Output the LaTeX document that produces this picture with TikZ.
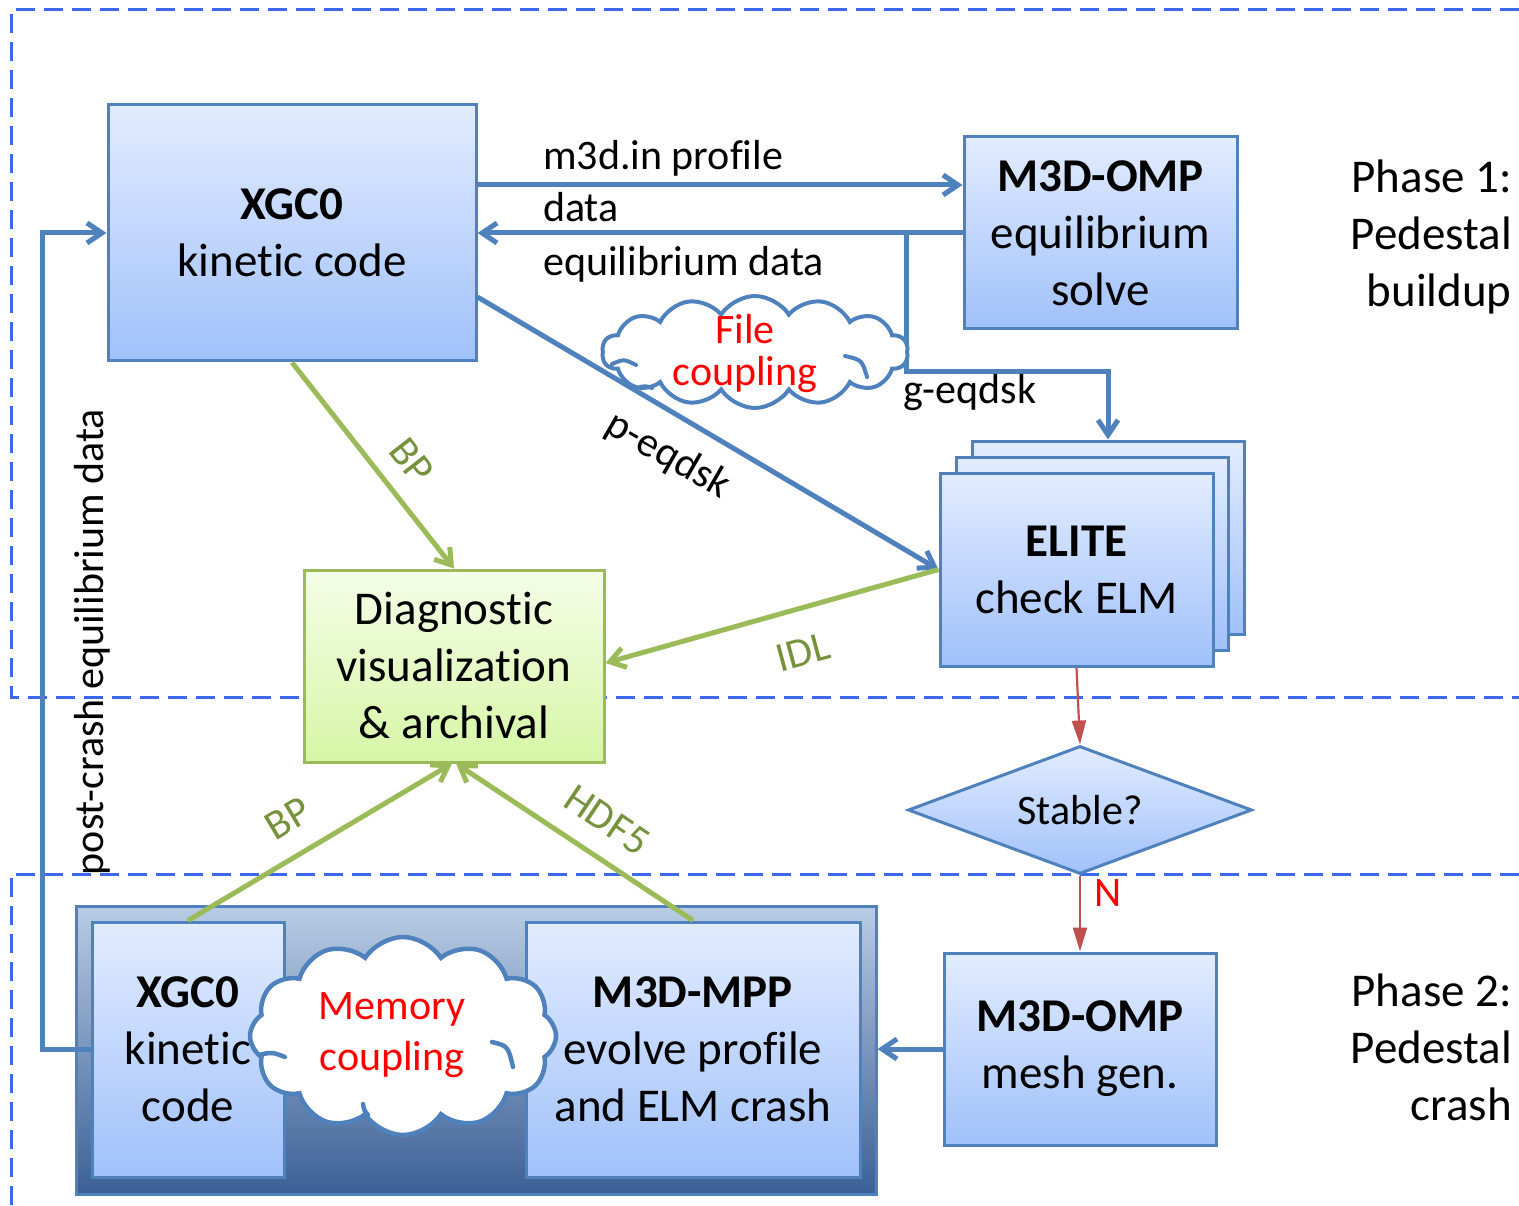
\documentclass[tikz,border=0pt]{standalone}
\usepackage{fontspec}
\setmainfont{Carlito}[Ligatures=NoCommon, RawFeature={-liga;-clig;-dlig;-calt}]
\usetikzlibrary{arrows.meta,shapes.geometric,shapes.symbols,calc}

\definecolor{edgeblue}{RGB}{79,129,189}
\definecolor{boxtop}{RGB}{226,236,255}
\definecolor{boxbot}{RGB}{160,193,250}
\definecolor{diagtop}{RGB}{245,253,232}
\definecolor{diagbot}{RGB}{214,246,166}
\definecolor{diagedge}{RGB}{155,187,89}
\definecolor{labelgreen}{RGB}{118,146,60}
\definecolor{dashblue}{RGB}{60,105,235}
\definecolor{flowred}{RGB}{192,80,77}
\definecolor{packtop}{RGB}{184,204,228}
\definecolor{packmid}{RGB}{140,168,206}
\definecolor{packbot}{RGB}{60,96,150}

\tikzset{
  mainfont/.style={font=\fontsize{47}{57}\selectfont},
  smallfont/.style={font=\fontsize{42}{52}\selectfont},
  box/.style={draw=edgeblue, line width=3pt, top color=boxtop, bottom color=boxbot,
    inner sep=0pt, align=center, mainfont},
  diagbox/.style={draw=diagedge, line width=3pt, top color=diagtop, bottom color=diagbot,
    inner sep=0pt, align=center, mainfont},
  packbox/.style={draw=edgeblue, line width=3pt, top color=packtop, middle color=packmid,
    bottom color=packbot, inner sep=0pt},
  phaseline/.style={draw=dashblue, line width=3pt, dash pattern=on 19pt off 9pt},
  bluearrow/.style={draw=edgeblue, line width=5pt, line join=miter,
    -{Straight Barb[length=15pt,width=20pt]}},
  greenarrow/.style={draw=diagedge, line width=5pt,
    -{Straight Barb[length=15pt,width=20pt]}},
  redarrow/.style={draw=flowred, line width=2.2pt, -{Triangle[length=24pt,width=14pt]}},
  lbl/.style={smallfont, inner sep=0pt},
  greenlbl/.style={smallfont, inner sep=0pt, text=labelgreen},
  puff/.style={cloud, cloud ignores aspect, draw=edgeblue, fill=white, line width=4pt},
  puffcurl/.style={draw=edgeblue, line width=4pt, line cap=round},
  cloudtext/.style={text=red, align=center, inner sep=0pt},
  phasetext/.style={mainfont, align=right, inner sep=0pt},
}

\begin{document}
\begin{tikzpicture}[x=1pt,y=-1pt]
\useasboundingbox (0,0) rectangle (1519,1206);

% phase regions
\draw[phaseline] (1519,10) -- (11,10) -- (11,697) -- (1519,697);
\draw[phaseline] (1519,874) -- (11,874) -- (11,1206);

% phase 1 codes
\node[box, minimum width=368pt, minimum height=256pt] (xgc) at (292,233)
  {\textbf{XGC0}\\kinetic code};
\node[box, minimum width=273pt, minimum height=192pt] (omp) at (1100.5,233)
  {\textbf{M3D-OMP}\\equilibrium\\solve};
\node[box, minimum width=272pt, minimum height=193pt] (e3) at (1108,537.5) {};
\node[box, minimum width=272pt, minimum height=193pt] (e2) at (1092,553.5) {};
\node[box, minimum width=273pt, minimum height=193pt] (e1) at (1076.5,569.5)
  {\textbf{ELITE}\\check ELM};

% diagnostics
\node[diagbox, minimum width=300pt, minimum height=192pt] (diag) at (454,666)
  {Diagnostic\\visualization\\\&~archival};

% stability test
\node[box, diamond, aspect=2.69, minimum width=344pt, minimum height=128pt, smallfont]
  (stable) at (1080,810) {Stable?};

% phase 2 codes
\node[box, minimum width=272pt, minimum height=192pt] (mesh) at (1080,1049)
  {\textbf{M3D-OMP}\\mesh gen.};
\node[packbox, minimum width=800pt, minimum height=288pt] (pack) at (476,1050) {};
\node[box, minimum width=192pt, minimum height=255pt] (xgc2) at (188,1049.5)
  {\textbf{XGC0}\\kinetic\\code};
\node[box, minimum width=334pt, minimum height=255pt] (mpp) at (693,1049.5)
  {\textbf{M3D-MPP}\\evolve profile\\and ELM crash};

% file exchange between the codes
\draw[bluearrow] ([yshift=48pt]xgc.east) -- ([yshift=48pt]xgc.east -| omp.west);
\draw[bluearrow] (omp.west) -- (xgc.east);
\coordinate (split) at ($(omp.west)+(-56pt,0)$);
\coordinate (gbend) at (1108,372);
\draw[bluearrow] (split) |- (gbend) -- (e3.north);
\draw[bluearrow] ([yshift=-64pt]xgc.east) -- (e1.west);

% diagnostic streams
\draw[greenarrow] (xgc.south) -- (diag.north);
\draw[greenarrow] (e1.west) -- ([yshift=3pt]diag.east);
\draw[greenarrow] (xgc2.north) -- ([xshift=-2pt]diag.south);
\draw[greenarrow] (mpp.north) -- ([xshift=2pt]diag.south);

% control flow
\draw[redarrow] (e1.south) -- (stable.north);
\draw[redarrow] (stable.south) -- (mesh.north);
\draw[bluearrow] (mesh.west) -- (mesh.west -| pack.east);
\draw[bluearrow] (xgc2.west) -- ++(-48pt,0) |- (xgc.west);

% coupling clouds, with the inner curls of the puffs
\node[puff, cloud puffs=14, cloud puff arc=115, minimum width=306pt, minimum height=112pt] (filecloud) at (755,352) {};
\draw[puffcurl] (612,364) .. controls (624,359) .. (636,365);
\draw[puffcurl] (845,356) .. controls (862,360) .. (867,377);
\draw[puffcurl] (640,387) .. controls (646,386) .. (652,388);
\node[cloudtext, font=\fontsize{42}{42}\selectfont] (filetext) at (745,354) {File\\coupling};
\node[puff, cloud puffs=12, cloud puff arc=115, line width=4.5pt, minimum width=306pt, minimum height=198pt] (memcloud) at (403,1036) {};
\draw[puffcurl, line width=4.5pt] (259,1055) .. controls (272,1052) .. (285,1057);
\draw[puffcurl, line width=4.5pt] (492,1042) .. controls (508,1046) .. (513,1067);
\draw[puffcurl, line width=4.5pt] (363,1104) .. controls (364,1110) .. (368,1115);
\node[cloudtext, font=\fontsize{42}{51}\selectfont] (memtext) at (392,1035) {Memory\\coupling};

% connector labels
\node[lbl, anchor=base west] (lm3d) at (543,170) {m3d.in profile};
\node[lbl, anchor=base west] (ldata) at (543,222) {data};
\node[lbl, anchor=base west] (leq) at (543,276) {equilibrium data};
\node[lbl, anchor=base west] (lg) at (903,403) {g-eqdsk};
\node[lbl, rotate=-30] (lp) at (668,456) {p-eqdsk};
\node[lbl, rotate=90] (lpost) at (92,642) {post-crash equilibrium data};
\node[greenlbl, rotate=-52] (lbp1) at (412,461) {BP};
\node[greenlbl, rotate=15] (lidl) at (803,652) {IDL};
\node[greenlbl, rotate=31] (lbp2) at (288,818) {BP};
\node[greenlbl, rotate=-34] (lhdf) at (607,820) {HDF5};
\node[lbl, text=red] (lno) at (1108,893) {N};

% phase titles
\node[phasetext, anchor=east] (ph1) at (1512,237) {Phase 1:\\Pedestal\\buildup};
\node[phasetext, anchor=east] (ph2) at (1512,1047) {Phase 2:\\Pedestal\\crash};
\end{tikzpicture}
\end{document}
